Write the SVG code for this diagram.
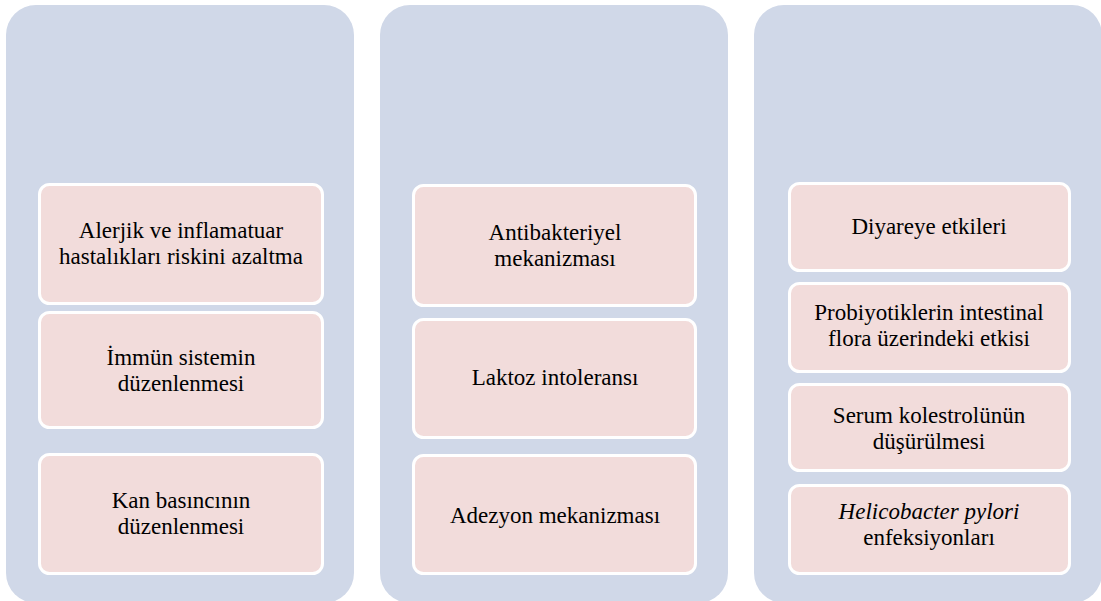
<svg xmlns="http://www.w3.org/2000/svg" width="1101" height="601" viewBox="0 0 1101 601">
<style>
.panel{fill:#d0d8e8;}
.box{fill:#f2dcdb;stroke:#ffffff;stroke-width:3;}
.t{font-size:23px;fill:#000000;text-anchor:middle;}
.it{font-style:italic;}
</style>
<rect width="1101" height="601" fill="#ffffff"/>
<g id="panel1">
<rect class="panel" x="6" y="5" width="348" height="598" rx="30"/>
</g>
<g id="panel2">
<rect class="panel" x="380" y="5" width="348" height="598" rx="30"/>
</g>
<g id="panel3">
<rect class="panel" x="754" y="5" width="348" height="598" rx="30"/>
</g>
<g id="connectors"></g>
<g id="nodes" font-family="Liberation Serif, Times New Roman, DejaVu Serif, serif">
<g id="n1">
<rect class="box" x="39.5" y="184.5" width="283" height="119" rx="10"/>
<text class="t" x="181" y="238">Alerjik ve inflamatuar</text>
<text class="t" x="181" y="264">hastalıkları riskini azaltma</text>
</g>
<g id="n2">
<rect class="box" x="39.5" y="312.5" width="283" height="115" rx="10"/>
<text class="t" x="181" y="365">İmmün sistemin</text>
<text class="t" x="181" y="391">düzenlenmesi</text>
</g>
<g id="n3">
<rect class="box" x="39.5" y="454.5" width="283" height="119" rx="10"/>
<text class="t" x="181" y="508">Kan basıncının</text>
<text class="t" x="181" y="534">düzenlenmesi</text>
</g>
<g id="n4">
<rect class="box" x="413.5" y="185.5" width="282" height="120" rx="10"/>
<text class="t" x="555" y="240">Antibakteriyel</text>
<text class="t" x="555" y="266">mekanizması</text>
</g>
<g id="n5">
<rect class="box" x="413.5" y="319.5" width="282" height="118" rx="10"/>
<text class="t" x="555" y="385">Laktoz intoleransı</text>
</g>
<g id="n6">
<rect class="box" x="413.5" y="455.5" width="282" height="118" rx="10"/>
<text class="t" x="555" y="523">Adezyon mekanizması</text>
</g>
<g id="n7">
<rect class="box" x="789.5" y="183.5" width="280" height="87" rx="10"/>
<text class="t" x="929" y="234">Diyareye etkileri</text>
</g>
<g id="n8">
<rect class="box" x="789.5" y="283.5" width="280" height="88" rx="10"/>
<text class="t" x="929" y="320">Probiyotiklerin intestinal</text>
<text class="t" x="929" y="346">flora üzerindeki etkisi</text>
</g>
<g id="n9">
<rect class="box" x="789.5" y="384.5" width="280" height="86" rx="10"/>
<text class="t" x="929" y="423">Serum kolestrolünün</text>
<text class="t" x="929" y="449">düşürülmesi</text>
</g>
<g id="n10">
<rect class="box" x="789.5" y="485.5" width="280" height="88" rx="10"/>
<text class="t it" x="929" y="519">Helicobacter pylori</text>
<text class="t" x="929" y="545">enfeksiyonları</text>
</g>
</g>
</svg>
